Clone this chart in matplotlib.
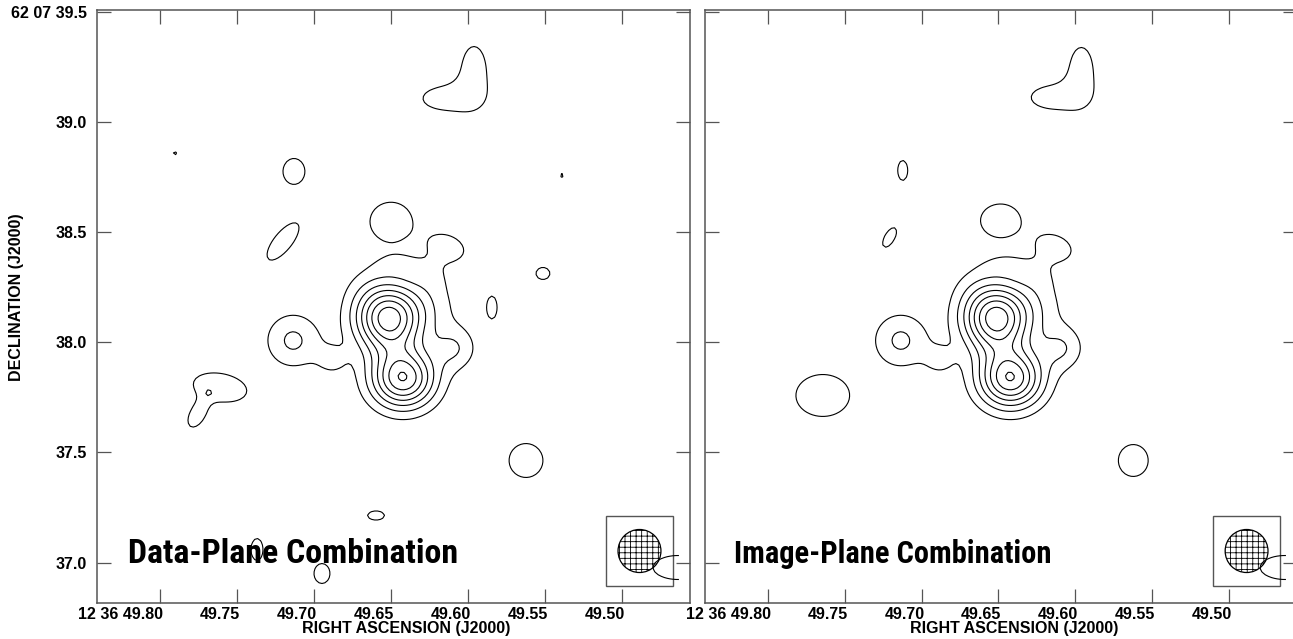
import numpy as np
import matplotlib
matplotlib.use("Agg")
import matplotlib.pyplot as plt
from matplotlib import font_manager as fm
from matplotlib.patches import Ellipse, Rectangle
from matplotlib.transforms import ScaledTranslation

plt.rcParams["font.family"] = ["Liberation Sans", "DejaVu Sans"]
plt.rcParams["font.weight"] = "bold"
plt.rcParams["hatch.linewidth"] = 0.6
plt.rcParams["hatch.color"] = "black"

# frame: RA in seconds of 12h36m, Dec in arcsec of +62d07m
RA_LIM = (49.8409, 49.4558)
DEC_LIM = (36.816, 39.511)
MAP_RA_EDGE = 49.4617          # map stops here, east part of frame is empty
ARCSEC_PER_S = 15 * np.cos(np.deg2rad(62.127))

ra_ticks = [49.80, 49.75, 49.70, 49.65, 49.60, 49.55, 49.50]
ra_labels = ["12 36 49.80", "49.75", "49.70", "49.65", "49.60", "49.55", "49.50"]
dec_ticks = [37.0, 37.5, 38.0, 38.5, 39.0, 39.5]
dec_labels = ["37.0", "37.5", "38.0", "38.5", "39.0", "62 07 39.5"]
levels = [1, 2, 3, 4, 5, 6, 7]

beam_ra, beam_dec = 49.4886, 37.0523
beam_size = 0.1955             # arcsec
box_ra = (49.5106, 49.4669)
box_dec = (36.8955, 37.2136)

# gaussian components: ra, dec, amp, sig_x("), sig_y("), pa(deg)
# main source (shared by both panels): two peaks, plateau, lobes, west knot + neck
main_ra = [49.6519, 49.6422, 49.6247, 49.6136, 49.6084, 49.6429, 49.6669, 49.6214,
           49.7136, 49.6883]
main_dec = [38.1091, 37.8364, 38.1682, 38.4364, 37.9727, 38.3636, 38.2591, 38.3045,
            38.0091, 37.9182]
main_amp = [7.4, 6.9, 1.1, 1.6, 1.8, 0.75, 0.5, 0.5, 2.2, 1.1]
main_sx = [0.1045, 0.1045, 0.1136, 0.0773, 0.070, 0.1000, 0.0909, 0.0545, 0.091, 0.0545]
main_sy = [0.1045, 0.0950, 0.1136, 0.0500, 0.070, 0.0409, 0.0909, 0.0545, 0.091, 0.0545]
main_pa = [0, 0, 0, -20, 0, 0, 0, 0, 0, 0]

# faint patches, data-plane combination (same island number = summed together)
dp_ra = [49.5961, 49.6149, 49.7903, 49.7130, 49.5390, 49.7201, 49.6500,
         49.5844, 49.5513, 49.7610, 49.7760, 49.7688, 49.5623, 49.6597,
         49.7370, 49.6948, 49.4636]
dp_dec = [39.2364, 39.1091, 38.8591, 38.7773, 38.7591, 38.4591, 38.5500,
          38.1591, 38.3136, 37.7955, 37.6682, 37.7682, 37.4636, 37.2136,
          37.0591, 36.9500, 36.9773]
dp_amp = [1.45, 1.45, 1.2, 1.9, 1.2, 1.9, 1.9,
          1.9, 1.9, 1.9, 1.7, 0.7, 1.9, 1.9,
          1.9, 1.9, 1.9]
dp_sx = [0.063, 0.116, 0.015, 0.044, 0.015, 0.092, 0.084,
         0.020, 0.028, 0.108, 0.032, 0.012, 0.068, 0.034,
         0.024, 0.032, 0.100]
dp_sy = [0.126, 0.058, 0.015, 0.052, 0.015, 0.036, 0.077,
         0.044, 0.024, 0.056, 0.056, 0.012, 0.068, 0.018,
         0.044, 0.040, 0.048]
dp_pa = [0, 0, 0, 0, 0, 51, 0,
         0, 0, -10, -30, 0, 0, 0,
         0, 0, 0]
dp_island = [0, 0, 1, 2, 3, 4, 5,
             6, 7, 8, 8, 8, 9, 10,
             11, 12, 13]

# faint patches, image-plane combination
ip_ra = [49.5961, 49.6149, 49.7123, 49.7208, 49.6487, 49.7643, 49.5623, 49.4636]
ip_dec = [39.2364, 39.1136, 38.7818, 38.4773, 38.5545, 37.7591, 37.4636, 36.9773]
ip_amp = [1.45, 1.45, 1.9, 1.9, 1.9, 1.9, 1.9, 1.9]
ip_sx = [0.060, 0.112, 0.020, 0.044, 0.080, 0.108, 0.060, 0.100]
ip_sy = [0.121, 0.058, 0.040, 0.020, 0.066, 0.084, 0.064, 0.048]
ip_pa = [0, 0, 0, 60, 0, 0, 0, 0]
ip_island = [0, 0, 1, 2, 3, 4, 5, 6]


def gauss(RA, DEC, r0, d0, a, s1, s2, p):
    dx = (r0 - RA) * ARCSEC_PER_S
    dy = DEC - d0
    t = np.deg2rad(p)
    u = dx * np.cos(t) + dy * np.sin(t)
    v = -dx * np.sin(t) + dy * np.cos(t)
    return a * np.exp(-0.5 * ((u / s1) ** 2 + (v / s2) ** 2))


def make_map(main, faint, island):
    g_ra = np.arange(RA_LIM[0] + 0.004, MAP_RA_EDGE, -0.0019)
    g_dec = np.arange(DEC_LIM[0] - 0.02, DEC_LIM[1] + 0.02, 0.0135)
    RA, DEC = np.meshgrid(g_ra, g_dec)
    z = np.zeros_like(RA)
    for c in zip(*main):
        z += gauss(RA, DEC, *c)
    # faint islands are kept apart: sum within an island, brightest island wins
    isl = {}
    for k, c in zip(island, zip(*faint)):
        isl[k] = isl.get(k, 0) + gauss(RA, DEC, *c)
    zf = np.max(np.array(list(isl.values())), axis=0)
    return RA, DEC, z + zf


def narrow_bold():
    # the captions in the original are a narrow bold sans; use one if installed
    for fam, st in [("Liberation Sans Narrow", "normal"), ("Roboto Condensed", "normal"),
                    ("Noto Sans", "condensed"), ("Open Sans", "condensed")]:
        try:
            path = fm.findfont(fm.FontProperties(family=fam, stretch=st, weight="bold"),
                               fallback_to_default=False)
        except ValueError:
            continue
        if fam.endswith(("Narrow", "Condensed")) or "condensed" in path.lower() or "narrow" in path.lower():
            return fm.FontProperties(fname=path)
    return fm.FontProperties(family="Liberation Sans", weight="bold")


fig = plt.figure(figsize=(12.93, 6.39), dpi=100)
W, H = 1293, 639
ax1 = fig.add_axes([97 / W, 1 - 603 / H, 593 / W, 593 / H])
ax2 = fig.add_axes([705 / W, 1 - 603 / H, 592 / W, 593 / H])
frame = "#555555"
title_font = narrow_bold()
main = (main_ra, main_dec, main_amp, main_sx, main_sy, main_pa)

panels = [(ax1, (dp_ra, dp_dec, dp_amp, dp_sx, dp_sy, dp_pa), dp_island,
           "Data-Plane Combination", 49.8208, 330),
          (ax2, (ip_ra, ip_dec, ip_amp, ip_sx, ip_sy, ip_pa), ip_island,
           "Image-Plane Combination", 49.8221, 318)]

titles = []
for ax, faint, island, title, tx, width_px in panels:
    RA, DEC, z = make_map(main, faint, island)
    ax.contour(RA, DEC, z, levels=levels, colors="black", linewidths=0.8)
    ax.set_xlim(*RA_LIM)
    ax.set_ylim(*DEC_LIM)

    bw = beam_size / ARCSEC_PER_S
    ax.add_patch(Ellipse((beam_ra, beam_dec), bw, beam_size, facecolor="none",
                         edgecolor="black", lw=0.9, hatch="+++"))
    ax.add_patch(Rectangle((box_ra[0], box_dec[0]), box_ra[1] - box_ra[0],
                           box_dec[1] - box_dec[0], fill=False, edgecolor=frame, lw=1.0))

    t = ax.text(tx, 37.0, title, fontproperties=title_font, fontsize=25,
                ha="left", va="baseline")
    titles.append((t, width_px))

    ax.set_xticks(ra_ticks)
    ax.set_xticklabels(ra_labels)
    ax.set_yticks(dec_ticks)
    ax.tick_params(direction="in", length=10, width=0.9, color=frame, top=True, right=True,
                   labelsize=11.5, pad=3)
    for lab in ax.get_xticklabels():
        lab.set_horizontalalignment("right")
        lab.set_transform(lab.get_transform() + ScaledTranslation(3 / 100, 0, fig.dpi_scale_trans))
    for s in ax.spines.values():
        s.set_color(frame)
        s.set_linewidth(1.1)

ax1.set_yticklabels(dec_labels)
ax1.tick_params(axis="y", pad=7)
ax2.set_yticklabels([])

fig.text(17 / W, 1 - 297 / H, "DECLINATION (J2000)", rotation=90, ha="center", va="center",
         fontsize=11.5, fontweight="bold")
fig.text(406 / W, 1 - 628 / H, "RIGHT ASCENSION (J2000)", ha="center", va="center",
         fontsize=11.5, fontweight="bold")
fig.text(1014 / W, 1 - 628 / H, "RIGHT ASCENSION (J2000)", ha="center", va="center",
         fontsize=11.5, fontweight="bold")

# size the panel captions to the width they have in the original
fig.canvas.draw()
for t, width_px in titles:
    w = t.get_window_extent().width
    t.set_fontsize(25 * width_px / w)

fig.savefig("out.png", dpi=100)
